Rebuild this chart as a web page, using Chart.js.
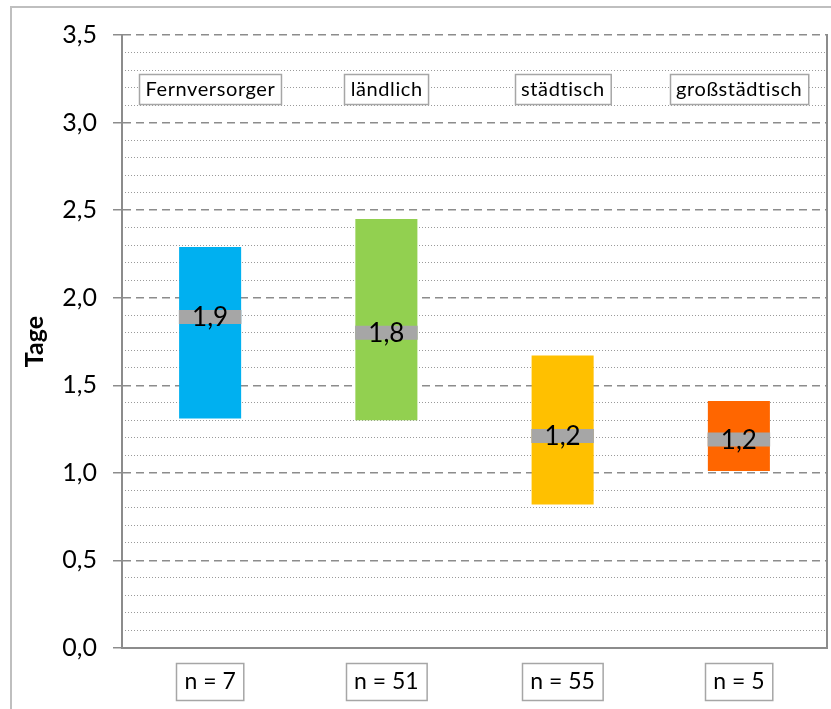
<!DOCTYPE html>
<html>
<head>
<meta charset="utf-8">
<script src="https://cdn.jsdelivr.net/npm/chart.js@4/dist/chart.umd.min.js"></script>
<style>
  html, body { margin: 0; padding: 0; background: #fff; }
  canvas { display: block; }
</style>
</head>
<body>
<canvas id="chart" width="831" height="709"></canvas>
<script>
// Versorgungsgebiete
const categories = ['Fernversorger', 'ländlich', 'städtisch', 'großstädtisch'];
// Spanne (Tage): untere und obere Grenze je Gebiet
const lowerValues = [1.31, 1.30, 0.82, 1.01];
const upperValues = [2.29, 2.45, 1.67, 1.41];
// Median (Tage)
const medianValues = [1.89, 1.80, 1.21, 1.19];
// Stichprobengröße
const sampleSizes = [7, 51, 55, 5];
// Achsenbereich
const yMin = 0;
const yMax = 3.5;
const yMajorStep = 0.5;
const yMinorStep = 0.1;

const barColors = ['#00B0F0', '#92D050', '#FFC000', '#FF6600'];
const FONT = 'Lato, "Noto Sans", sans-serif';
const GRID = '#8c8c8c';
const fmt = v => v.toFixed(1).replace('.', ',');
const isMajor = v => Math.abs(v / yMajorStep - Math.round(v / yMajorStep)) < 1e-6;
const MEDIAN_HALF = 0.04;

// Rahmen um das gesamte Diagramm
const frame = {
  id: 'frame',
  beforeDraw(chart) {
    const ctx = chart.ctx;
    ctx.save();
    ctx.fillStyle = '#fff';
    ctx.fillRect(0, 0, chart.width, chart.height);
    ctx.strokeStyle = '#bfbfbf';
    ctx.lineWidth = 2;
    ctx.strokeRect(11, 7, chart.width + 20, chart.height + 20);
    ctx.restore();
  }
};

function textBox(ctx, text, cx, cy, h, padX, size, spacing) {
  ctx.font = size + 'px ' + FONT;
  ctx.letterSpacing = spacing + 'px';
  const w = ctx.measureText(text).width + padX * 2;
  const x = Math.round(cx - w / 2) + 0.5;
  const y = Math.round(cy - h / 2) + 0.5;
  ctx.fillStyle = '#fff';
  ctx.fillRect(x, y, w, h);
  ctx.strokeStyle = '#a6a6a6';
  ctx.lineWidth = 1.5;
  ctx.strokeRect(x, y, w, h);
  ctx.fillStyle = '#000';
  ctx.textAlign = 'center';
  ctx.textBaseline = 'middle';
  ctx.fillText(text, cx + spacing / 2, cy + 1);
  ctx.letterSpacing = '0px';
}

// Medianwerte, Gebietsnamen und Fallzahlen
const annotations = {
  id: 'annotations',
  afterDatasetsDraw(chart) {
    const { ctx, chartArea, scales } = chart;
    const x = scales.x;
    ctx.save();
    const meta = chart.getDatasetMeta(0);
    meta.data.forEach((el, i) => {
      const cy = (el.y + el.base) / 2;
      ctx.font = '26px ' + FONT;
      ctx.fillStyle = '#000';
      ctx.textAlign = 'center';
      ctx.textBaseline = 'middle';
      ctx.fillText(fmt(medianValues[i]), el.x, cy + 1);
    });
    categories.forEach((name, i) => {
      const cx = x.getPixelForValue(i);
      textBox(ctx, name, cx, chartArea.top + 54, 30, 6, 20, 0.6);
      textBox(ctx, 'n = ' + sampleSizes[i], cx, chartArea.bottom + 33, 37, 8, 23, 0);
    });
    ctx.restore();
  }
};

new Chart(document.getElementById('chart'), {
  type: 'bar',
  data: {
    labels: categories,
    datasets: [
      {
        label: 'Median',
        data: medianValues.map(m => [m - MEDIAN_HALF, m + MEDIAN_HALF]),
        backgroundColor: '#a6a6a6',
        order: 0,
        grouped: false,
        barPercentage: 0.355,
        categoryPercentage: 1
      },
      {
        label: 'Spanne',
        data: lowerValues.map((lo, i) => [lo, upperValues[i]]),
        backgroundColor: barColors,
        order: 1,
        grouped: false,
        barPercentage: 0.352,
        categoryPercentage: 1
      }
    ]
  },
  options: {
    responsive: false,
    animation: false,
    layout: { padding: { left: 0, top: 35, right: 4, bottom: 61 } },
    plugins: { legend: { display: false }, tooltip: { enabled: false } },
    scales: {
      x: {
        grid: { display: false },
        border: { display: true, color: GRID, width: 2 },
        ticks: { display: false },
        afterFit(s) { s.height = 0; }
      },
      y: {
        position: 'left',
        min: yMin,
        max: yMax,
        ticks: {
          stepSize: yMajorStep,
          callback: v => fmt(v),
          font: { family: FONT, size: 25 },
          color: '#000',
          padding: 16
        },
        grid: {
          color: GRID,
          lineWidth: 1.5,
          tickLength: 9,
          tickColor: GRID,
          tickWidth: 1.5,
          tickBorderDash: []
        },
        border: { display: true, color: GRID, width: 2, dash: [8, 5] },
        title: {
          display: true,
          text: 'Tage',
          color: '#000',
          font: { family: FONT, size: 25, weight: 'bold' },
          padding: { top: 20, bottom: 0 }
        },
        afterFit(s) { s.width = 122; }
      },
      yMinor: {
        position: 'right',
        min: yMin,
        max: yMax,
        ticks: { display: false, stepSize: yMinorStep },
        grid: {
          drawTicks: false,
          lineWidth: 1,
          color: c => (c.tick && isMajor(c.tick.value)) ? 'rgba(0,0,0,0)' : '#9a9a9a'
        },
        border: { display: true, color: GRID, width: 2, dash: [1, 2] },
        afterFit(s) { s.width = 0; }
      }
    }
  },
  plugins: [frame, annotations]
});
</script>
</body>
</html>
